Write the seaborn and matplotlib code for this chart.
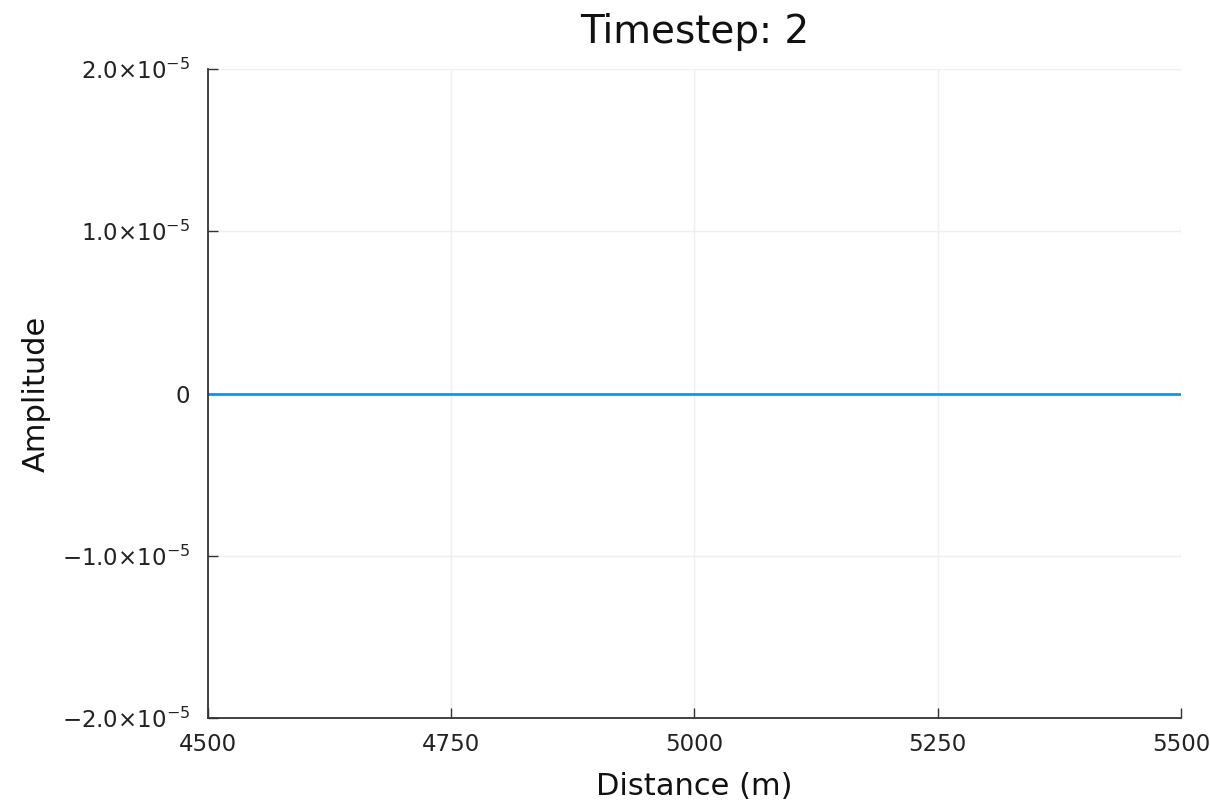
import matplotlib

matplotlib.use("Agg")
import matplotlib.pyplot as plt
import pandas as pd
import seaborn as sns

# data: the wave has not arrived yet, amplitude is flat at zero
distance = [4500, 4625, 4750, 4875, 5000, 5125, 5250, 5375, 5500]
amplitude = [0.0, 0.0, 0.0, 0.0, 0.0, 0.0, 0.0, 0.0, 0.0]
x_ticks = [4500, 4750, 5000, 5250, 5500]
y_ticks = [-2e-5, -1e-5, 0.0, 1e-5, 2e-5]
y_labels = [r"$-2.0{\times}10^{-5}$", r"$-1.0{\times}10^{-5}$", "0",
            r"$1.0{\times}10^{-5}$", r"$2.0{\times}10^{-5}$"]

sns.set_theme(style="white")
plt.rcParams["font.family"] = ["DejaVu Sans"]
plt.rcParams["mathtext.fontset"] = "dejavusans"

df = pd.DataFrame({"Distance": distance, "Amplitude": amplitude})

fig = plt.figure(figsize=(12.1, 8.02), dpi=100)
ax = fig.add_axes([0.1719, 0.1047, 0.976 - 0.1719, 0.914 - 0.1047])
sns.lineplot(data=df, x="Distance", y="Amplitude", color="#009AFA", linewidth=2, ax=ax)

ax.set_xlim(4500, 5500)
ax.set_ylim(-2e-5, 2e-5)
ax.set_xticks(x_ticks)
ax.set_xticklabels([str(t) for t in x_ticks])
ax.set_yticks(y_ticks)
ax.set_yticklabels(y_labels)
ax.grid(True, color="#efefef", linewidth=1)
ax.set_axisbelow(True)
for side in ["top", "right"]:
    ax.spines[side].set_visible(False)
for side in ["left", "bottom"]:
    ax.spines[side].set_color("#333333")
    ax.spines[side].set_linewidth(1.3)
ax.tick_params(direction="in", length=7, width=1, colors="#333333",
               labelcolor="#222222", labelsize=16.5, left=True, bottom=True)
ax.tick_params(axis="x", pad=11)
ax.tick_params(axis="y", pad=13)

ax.set_title("Timestep: 2", fontsize=28, color="#111111", pad=19)
ax.set_xlabel("Distance (m)", fontsize=22, color="#111111", labelpad=11)
ax.set_ylabel("Amplitude", fontsize=22, color="#111111", labelpad=8)

fig.savefig("out.png", dpi=100)
